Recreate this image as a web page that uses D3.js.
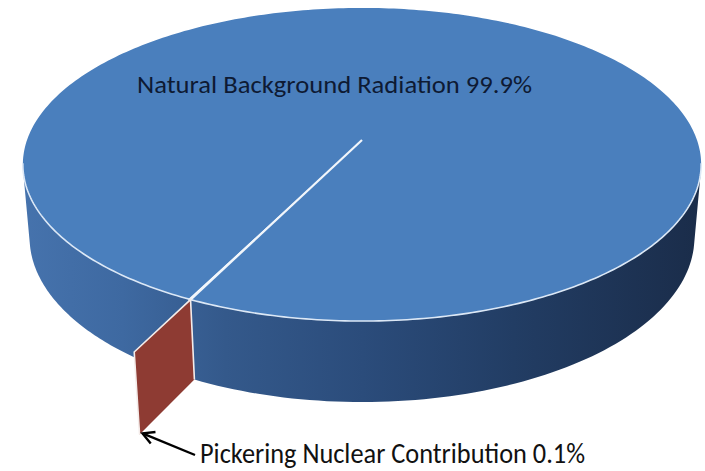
<!DOCTYPE html>
<html><head><meta charset="utf-8">
<script src="https://cdn.jsdelivr.net/npm/d3@7"></script>
<style>html,body{margin:0;padding:0;background:#fff;} svg{display:block;}</style>
</head><body>
<svg id="chart" width="705" height="471"></svg>
<script>
// ---- data ----
const categories = ["Natural Background Radiation", "Pickering Nuclear Contribution"];
const values = [99.9, 0.1];
const sliceColors = ["#4a7fbd", "#8e3b33"];

// ---- 3D pie projection ----
const svg = d3.select("#chart");
const cam = {cx: 362, cy: 140, f: 1906, D: 5.69, s: 0.456, c: 0.890};
const depth = 0.2465, explode = 0.27;
function proj(X, Y, Z) {
  const zc = cam.D - cam.c * Z - cam.s * Y;
  return [cam.cx + cam.f * X / zc, cam.cy + cam.f * (cam.s * Z - cam.c * Y) / zc];
}
const pt = (phi, r, Y) => proj(r * Math.cos(phi), Y, r * Math.sin(phi));

const arcs = d3.pie().sort(null).value(d => d)(values);
const cutPhi = 116.1 * Math.PI / 180;
const phiOf = a => cutPhi + 2 * Math.PI - a;   // pie angle -> world angle

const line = d3.line();
const defs = svg.append("defs");
const grad = defs.append("linearGradient").attr("id", "wallGrad")
  .attr("gradientUnits", "userSpaceOnUse").attr("x1", 20).attr("x2", 705).attr("y1", 0).attr("y2", 0);
[[0, "#4673ad"], [0.15, "#3e69a1"], [0.3, "#34598b"], [0.5, "#2b4c7b"], [0.72, "#223d64"], [1, "#1a2c49"]]
  .forEach(([o, c]) => grad.append("stop").attr("offset", o).attr("stop-color", c));

const wallSil = Math.asin(1 / (cam.D * cam.c));
const frontStart = wallSil, frontEnd = Math.PI - wallSil;
function wallPoly(p0, p1) {
  const n = 80, top = [], bot = [];
  for (let i = 0; i <= n; i++) {
    const p = p0 + (p1 - p0) * i / n;
    top.push(pt(p, 1, 0)); bot.push(pt(p, 1, -depth));
  }
  return top.concat(bot.reverse());
}

const small = arcs[1];
const smallA = phiOf(small.endAngle), smallB = phiOf(small.startAngle);
const cutLo = smallA % (2 * Math.PI), cutHi = smallB % (2 * Math.PI);
const lo = Math.min(cutLo, cutHi), hi = Math.max(cutLo, cutHi);

// walls of big slice (front visible parts)
svg.append("path").attr("d", line(wallPoly(frontStart, lo)) + "Z").attr("fill", "url(#wallGrad)");
svg.append("path").attr("d", line(wallPoly(hi, frontEnd)) + "Z").attr("fill", "url(#wallGrad)");

// top face of big slice
const topPts = [proj(0, 0, 0)];
for (let i = 0; i <= 360; i++) topPts.push(pt(hi + (2 * Math.PI - (hi - lo)) * i / 360, 1, 0));
svg.append("path").attr("d", line(topPts) + "Z").attr("fill", sliceColors[0]);

// rim highlight along the front
const rim = [];
for (let i = 0; i <= 200; i++) rim.push(pt(frontStart - 0.05 + (frontEnd - frontStart + 0.1) * i / 200, 1, 0));
svg.append("path").attr("d", line(rim)).attr("fill", "none").attr("stroke", "#dce8f6").attr("stroke-width", 1.6);

// cut line from center
svg.append("path").attr("d", line([proj(0, 0, 0), pt(lo, 1, 0)]))
  .attr("stroke", "#f2f6fb").attr("stroke-width", 2.2).attr("fill", "none");

// exploded tiny slice: radial face
const face = [pt(lo, 1, 0), pt(lo, 1 + explode, 0), pt(lo, 1 + explode, -depth), pt(lo, 1, -depth)];
svg.append("path").attr("d", line(face) + "Z").attr("fill", sliceColors[1]);
svg.append("path").attr("d", line([face[3], face[0], face[1], face[2]]))
  .attr("fill", "none").attr("stroke", "#f4ecea").attr("stroke-width", 1.6);

// ---- labels ----
const font = "Carlito, 'Liberation Sans Narrow', 'Open Sans', sans-serif";
svg.append("text").attr("x", 137).attr("y", 93)
  .attr("font-family", font).attr("font-size", 25).attr("fill", "#0e1a33")
  .attr("textLength", 395).attr("lengthAdjust", "spacingAndGlyphs")
  .text(`${categories[0]} ${values[0]}%`);
svg.append("text").attr("x", 200).attr("y", 463)
  .attr("font-family", font).attr("font-size", 29).attr("fill", "#111")
  .attr("textLength", 385).attr("lengthAdjust", "spacingAndGlyphs")
  .text(`${categories[1]} ${values[1]}%`);

// arrow
const tip = face[2];
const tx = tip[0] + 3, ty = tip[1] - 1;
const sx = 195, sy = 455;
const ang = Math.atan2(sy - ty, sx - tx), L = 13, spread = 0.5;
svg.append("path").attr("d", line([[sx, sy], [tx, ty]]))
  .attr("stroke", "#000").attr("stroke-width", 2.4).attr("fill", "none");
svg.append("path").attr("d", line([
    [tx + L * Math.cos(ang - spread), ty + L * Math.sin(ang - spread)],
    [tx, ty],
    [tx + L * Math.cos(ang + spread), ty + L * Math.sin(ang + spread)]]))
  .attr("stroke", "#000").attr("stroke-width", 2.4).attr("fill", "none");
</script>
</body></html>
